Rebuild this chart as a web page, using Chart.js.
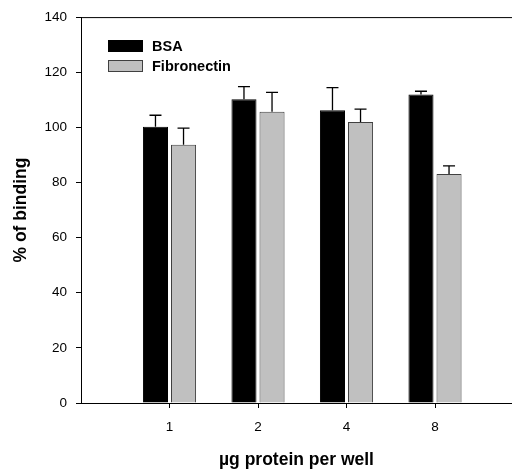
<!DOCTYPE html>
<html>
<head>
<meta charset="utf-8">
<script src="https://cdn.jsdelivr.net/npm/chart.js@4.4.1/dist/chart.umd.min.js"></script>
<style>
  html, body { margin: 0; padding: 0; background: white; overflow: hidden; }
</style>
</head>
<body>
<canvas id="bars" width="512" height="475"></canvas>
<script>
const categories = ['1', '2', '4', '8'];
const bsa = [100.2, 110.2, 106.2, 111.9];
const bsaErr = [4.2, 4.6, 8.2, 1.2];
const fib = [93.7, 105.7, 101.9, 83.1];
const fibErr = [6.0, 7.0, 4.7, 2.9];
const yTicks = [0, 20, 40, 60, 80, 100, 120, 140];

// groups placed at positions 1..n on a numeric axis, axis runs past the last one
const points = arr => arr.map((v, i) => ({ x: i + 1, y: v }));

const errorBars = {
    id: 'errorBars',
    afterDatasetsDraw(chart) {
        const ctx = chart.ctx;
        const y = chart.scales.y;
        ctx.save();
        ctx.strokeStyle = 'black';
        ctx.lineWidth = 1.3;
        chart.data.datasets.forEach((ds, i) => {
            chart.getDatasetMeta(i).data.forEach((bar, j) => {
                const top = y.getPixelForValue(ds.data[j].y + ds.err[j]);
                ctx.beginPath();
                ctx.moveTo(bar.x, bar.y);
                ctx.lineTo(bar.x, top);
                ctx.moveTo(bar.x - 6, top);
                ctx.lineTo(bar.x + 6, top);
                ctx.stroke();
            });
        });
        ctx.restore();
    }
};

const frame = {
    id: 'frame',
    beforeDatasetsDraw(chart) {
        const {ctx, chartArea} = chart;
        ctx.save();
        ctx.strokeStyle = 'black';
        ctx.lineWidth = 1;
        ctx.beginPath();
        ctx.moveTo(chartArea.left, chartArea.top + 0.5);
        ctx.lineTo(chartArea.right, chartArea.top + 0.5);
        ctx.stroke();
        ctx.restore();
    }
};

const boxLegend = {
    id: 'boxLegend',
    afterDraw(chart) {
        const ctx = chart.ctx;
        ctx.save();
        ctx.font = 'bold 14.5px "Liberation Sans", Arial, sans-serif';
        ctx.textBaseline = 'middle';
        chart.data.datasets.forEach((ds, i) => {
            const top = 40 + i * 20;
            ctx.fillStyle = ds.backgroundColor;
            ctx.fillRect(108, top, 35, 12);
            ctx.strokeStyle = ds.borderColor;
            ctx.lineWidth = 1;
            ctx.strokeRect(108.5, top + 0.5, 34, 11);
            ctx.fillStyle = 'black';
            ctx.fillText(ds.label, 152, top + 6.5);
        });
        ctx.restore();
    }
};

new Chart(document.getElementById('bars'), {
    type: 'bar',
    data: {
        datasets: [{
            label: 'BSA',
            data: points(bsa),
            err: bsaErr,
            backgroundColor: '#000000',
            borderColor: '#000000',
            borderWidth: 1,
            categoryPercentage: 0.634,
            barPercentage: 0.893
        }, {
            label: 'Fibronectin',
            data: points(fib),
            err: fibErr,
            backgroundColor: '#c0c0c0',
            borderColor: '#404040',
            borderWidth: 1,
            categoryPercentage: 0.634,
            barPercentage: 0.893
        }]
    },
    options: {
        responsive: false,
        animation: false,
        layout: { padding: { top: 15, right: 0, left: 0, bottom: 0 } },
        plugins: {
            legend: { display: false },
            tooltip: { enabled: false }
        },
        scales: {
            x: {
                type: 'linear',
                min: 0,
                max: 4.87,
                offset: false,
                afterFit: s => { s.height = 72; },
                afterBuildTicks: s => { s.ticks = categories.map((c, i) => ({ value: i + 1 })); },
                border: { display: true, color: 'black', width: 1 },
                grid: {
                    offset: false,
                    drawOnChartArea: false,
                    drawTicks: true,
                    tickLength: 5,
                    color: 'black'
                },
                ticks: {
                    color: 'black',
                    padding: 11,
                    maxRotation: 0,
                    autoSkip: false,
                    callback: v => categories[v - 1],
                    font: { family: '"Liberation Sans", Arial, sans-serif', size: 13.5 }
                },
                title: {
                    display: true,
                    text: 'µg protein per well',
                    color: 'black',
                    padding: { top: 0, bottom: 4 },
                    font: { family: '"Liberation Sans", Arial, sans-serif', size: 17.5, weight: 'bold' }
                }
            },
            y: {
                min: 0,
                max: 140,
                afterFit: s => { s.width = 81; },
                afterBuildTicks: s => { s.ticks = yTicks.map(v => ({ value: v })); },
                border: { display: true, color: 'black', width: 1 },
                grid: {
                    drawOnChartArea: false,
                    drawTicks: true,
                    tickLength: 5,
                    color: 'black'
                },
                ticks: {
                    color: 'black',
                    padding: 9,
                    font: { family: '"Liberation Sans", Arial, sans-serif', size: 13.5 }
                },
                title: {
                    display: true,
                    text: '% of binding',
                    color: 'black',
                    padding: { top: 11, bottom: 0 },
                    font: { family: '"Liberation Sans", Arial, sans-serif', size: 17.5, weight: 'bold' }
                }
            }
        }
    },
    plugins: [frame, errorBars, boxLegend]
});
</script>
</body>
</html>
